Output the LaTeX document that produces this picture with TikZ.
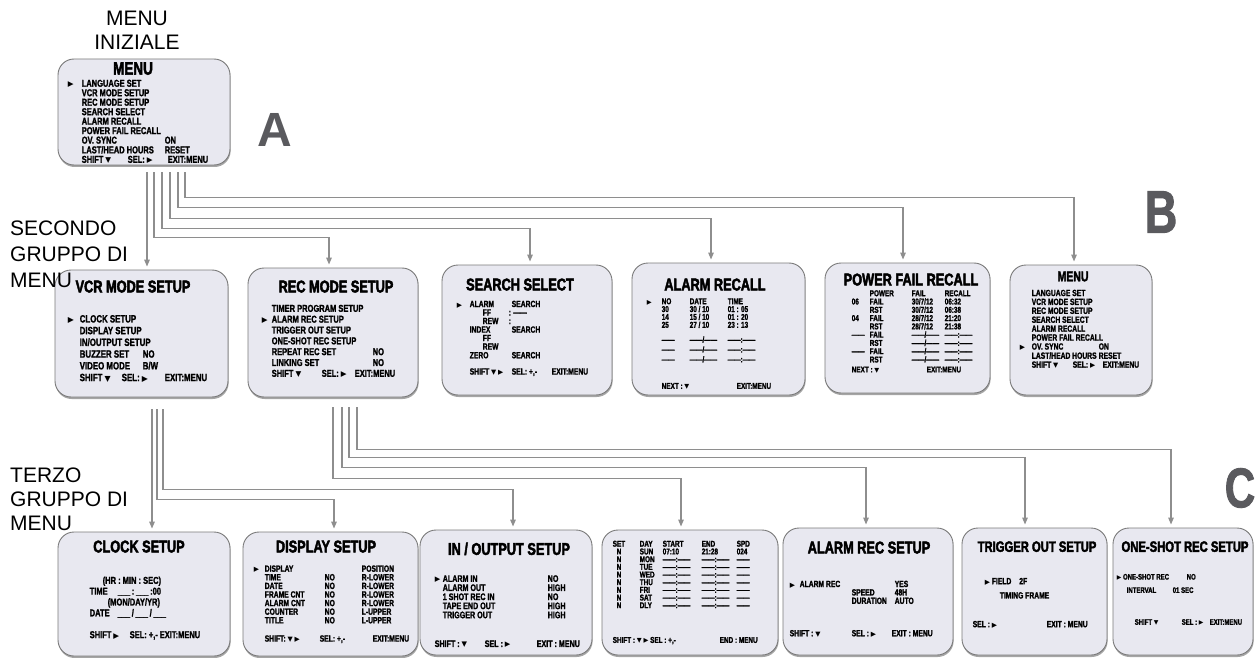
\documentclass[tikz,border=0pt]{standalone}
\usepackage{fontspec}
\usepackage{array}
\setmainfont{Liberation Sans}
\newfontfamily\scrfont[FakeStretch=0.75, FakeBold=1.6, Ligatures=TeX]{Liberation Sans}
\newfontfamily\ttlfont[FakeStretch=0.75, FakeBold=2.6, Ligatures=TeX]{Liberation Sans}
\newfontfamily\symfont{DejaVu Sans}
\usetikzlibrary{arrows.meta, positioning, shadows}

\definecolor{screenfill}{HTML}{E8E8F0}
\definecolor{screenline}{HTML}{7A7A7A}
\definecolor{wiregray}{HTML}{8E8E8E}
\definecolor{lettergray}{HTML}{5A5A5E}

\newcommand{\scrtri}{{\symfont\scalebox{0.75}{▶}}}
\newcommand{\scrdown}{{\symfont\scalebox{0.75}{▼}}}
\newcommand{\scrdash}{------}

\begin{document}
\begin{tikzpicture}[
    x=1pt, y=-1pt,
    screen/.style={draw=screenline, line width=0.9pt, fill=screenfill, rounded corners=16pt, inner sep=0pt,
        drop shadow={shadow xshift=0.6pt, shadow yshift=-2pt, opacity=0.7, fill=black!50}},
    title/.style={font=\ttlfont\bfseries\fontsize{#1}{#1}\selectfont, inner sep=0pt},
    title/.default=17,
    scr/.style 2 args={font=\scrfont\bfseries\fontsize{#1}{#1}\selectfont\def\arraystretch{#2}, inner sep=0pt},
    grouplbl/.style={font=\fontsize{21}{#1}\selectfont, inner sep=0pt},
    bigletter/.style={font=\bfseries\fontsize{#1}{#1}\selectfont, text=lettergray, inner sep=0pt},
    arrow/.style={draw=wiregray, line width=1.3pt, -{Triangle[length=7pt, width=5.5pt]}, shorten <=7pt, shorten >=3pt},
]
\path[use as bounding box, fill=white] (0,0) rectangle (1259,658);

% menu iniziale
\node[screen, minimum width=172pt, minimum height=106pt] (menua) at (144,112) {};
\node[title=18, below=3.5pt of menua.north, xshift=-11pt] (menuattl) {MENU};
\node[scr={10}{0.833}, below right=21pt and 10pt of menua.north west] (menuatxt) {%
\begin{tabular}{@{}w{l}{14pt}@{}w{l}{83pt}@{}l@{}}
\scrtri & LANGUAGE SET\\
 & VCR MODE SETUP\\
 & REC MODE SETUP\\
 & SEARCH SELECT\\
 & ALARM RECALL\\
 & POWER FAIL RECALL\\
 & OV. SYNC & ON\\
 & LAST/HEAD HOURS & RESET\\
 & \multicolumn{2}{@{}l@{}}{\makebox[46pt][l]{SHIFT \scrdown}\makebox[40pt][l]{SEL: \scrtri}EXIT:MENU}
\end{tabular}};

% secondo gruppo
\node[screen, minimum width=173pt, minimum height=127pt] (vcrmode) at (141.5,333.5) {};
\node[title, below=10.8pt of vcrmode.north, xshift=-8.5pt] (vcrmodettl) {VCR MODE SETUP};
\node[scr={10.5}{1.117}, below right=44.5pt and 13pt of vcrmode.north west] (vcrmodetxt) {%
\begin{tabular}{@{}w{l}{12pt}@{}w{l}{63pt}@{}l@{}}
\scrtri & CLOCK SETUP\\
 & DISPLAY SETUP\\
 & IN/OUTPUT SETUP\\
 & BUZZER SET & NO\\
 & VIDEO MODE & B/W\\
 & \multicolumn{2}{@{}l@{}}{\makebox[42pt][l]{SHIFT \scrdown}\makebox[43pt][l]{SEL: \scrtri}EXIT:MENU}
\end{tabular}};

\node[screen, minimum width=170pt, minimum height=129pt] (recmode) at (333,332.5) {};
\node[title, below=12.8pt of recmode.north, xshift=3pt] (recmodettl) {REC MODE SETUP};
\node[scr={10}{1.083}, below right=36.5pt and 14pt of recmode.north west] (recmodetxt) {%
\begin{tabular}{@{}w{l}{10pt}@{}w{l}{101pt}@{}l@{}}
 & TIMER PROGRAM SETUP\\
\scrtri & ALARM REC SETUP\\
 & TRIGGER OUT SETUP\\
 & ONE-SHOT REC SETUP\\
 & REPEAT REC SET & NO\\
 & LINKING SET & NO\\
 & \multicolumn{2}{@{}l@{}}{\makebox[50pt][l]{SHIFT \scrdown}\makebox[33pt][l]{SEL: \scrtri}EXIT:MENU}
\end{tabular}};

\node[screen, minimum width=170pt, minimum height=130pt] (search) at (527,330) {};
\node[title, below=13.8pt of search.north, xshift=-7pt] (searchttl) {SEARCH SELECT};
\node[scr={9}{0.858}, below right=36pt and 15pt of search.north west] (searchtxt) {%
\begin{tabular}{@{}w{l}{13pt}@{}w{l}{42pt}@{}l@{}}
\scrtri & ALARM & SEARCH\\
 & \hspace*{13pt}\makebox[26pt][l]{FF}: & \,\scrdash\\
 & \hspace*{13pt}\makebox[26pt][l]{REW}: & \\
 & INDEX & SEARCH\\
 & \hspace*{13pt}FF & \\
 & \hspace*{13pt}REW & \\
 & ZERO & SEARCH\\
 & & \\
 & \multicolumn{2}{@{}l@{}}{\makebox[42pt][l]{SHIFT \scrdown\ \scrtri}\makebox[40pt][l]{SEL: +,-}EXIT:MENU}
\end{tabular}};

\node[screen, minimum width=173pt, minimum height=132pt] (alarmrc) at (718.5,329) {};
\node[title, below=15.8pt of alarmrc.north, xshift=-3.5pt] (alarmrcttl) {ALARM RECALL};
\node[scr={8.5}{0.667}, below right=35.5pt and 15pt of alarmrc.north west] (alarmrctxt) {%
\begin{tabular}{@{}w{l}{15pt}@{}w{l}{28pt}@{}w{l}{38pt}@{}l@{}}
\scrtri & NO & DATE & TIME\\
 & 30 & 30 / 10 & 01 : 05\\
 & 14 & 15 / 10 & 01 : 20\\
 & 25 & 27 / 10 & 23 : 13\\[7pt]
 & \scrdash & \scrdash/\scrdash & \scrdash:\scrdash\\[2pt]
 & \scrdash & \scrdash/\scrdash & \scrdash:\scrdash\\[2pt]
 & \scrdash & \scrdash/\scrdash & \scrdash:\scrdash\\[19pt]
 & \multicolumn{3}{@{}l@{}}{\makebox[75pt][l]{NEXT : \scrdown}EXIT:MENU}
\end{tabular}};

\node[screen, minimum width=165pt, minimum height=130pt] (powerfail) at (907.5,328) {};
\node[title, below=10.8pt of powerfail.north, xshift=3.5pt] (powerfailttl) {POWER FAIL RECALL};
\node[scr={8.5}{0.833}, below right=27.5pt and 27pt of powerfail.north west] (powerfailtxt) {%
\begin{tabular}{@{}w{l}{18pt}@{}w{l}{42pt}@{}w{l}{33pt}@{}l@{}}
 & POWER & FAIL & RECALL\\
06 & FAIL & 30/7/12 & 06:32\\
 & RST & 30/7/12 & 06:38\\
04 & FAIL & 28/7/12 & 21:20\\
 & RST & 28/7/12 & 21:38\\
\scrdash & FAIL & \scrdash/\scrdash & \scrdash:\scrdash\\
 & RST & \scrdash/\scrdash & \scrdash:\scrdash\\
\scrdash & FAIL & \scrdash/\scrdash & \scrdash:\scrdash\\
 & RST & \scrdash/\scrdash & \scrdash:\scrdash\\[2pt]
\multicolumn{4}{@{}l@{}}{\makebox[75pt][l]{NEXT : \scrdown}EXIT:MENU}
\end{tabular}};

\node[screen, minimum width=142pt, minimum height=130pt] (menub) at (1081,330) {};
\node[title=14, below=6.9pt of menub.north, xshift=-8pt] (menubttl) {MENU};
\node[scr={9}{0.979}, below right=25pt and 10pt of menub.north west] (menubtxt) {%
\begin{tabular}{@{}w{l}{12pt}@{}w{l}{67pt}@{}l@{}}
 & LANGUAGE SET\\
 & VCR MODE SETUP\\
 & REC MODE SETUP\\
 & SEARCH SELECT\\
 & ALARM RECALL\\
 & POWER FAIL RECALL\\
\scrtri & OV. SYNC & ON\\
 & LAST/HEAD HOURS & RESET\\
 & \multicolumn{2}{@{}l@{}}{\makebox[41pt][l]{SHIFT \scrdown}\makebox[30pt][l]{SEL: \scrtri}EXIT:MENU}
\end{tabular}};

% terzo gruppo
\node[screen, minimum width=172pt, minimum height=124pt] (clock) at (144,594) {};
\node[title, below=8.8pt of clock.north, xshift=-5pt] (clockttl) {CLOCK SETUP};
\node[scr={10}{1.083}, below right=44.5pt and 32pt of clock.north west] (clocktxt) {%
\begin{tabular}{@{}l@{}}
\hspace*{13pt}(HR : MIN : SEC)\\
TIME\hspace{10pt}\_\_\_\,:\,\_\_\_\,:00\\
\hspace*{18pt}(MON/DAY/YR)\\
DATE\hspace{8pt}\_\_\_\,/\,\_\_\_\,/\,\_\_\_\\[11pt]
\makebox[40pt][l]{SHIFT \scrtri}\makebox[30pt][l]{SEL: +,-}EXIT:MENU
\end{tabular}};

\node[screen, minimum width=175pt, minimum height=124pt] (display) at (330.5,594) {};
\node[title, below=8.8pt of display.north, xshift=-4.5pt] (displayttl) {DISPLAY SETUP};
\node[scr={9}{0.858}, below right=33.7pt and 11pt of display.north west] (displaytxt) {%
\begin{tabular}{@{}w{l}{11pt}@{}w{l}{60pt}@{}w{l}{37pt}@{}l@{}}
\scrtri & DISPLAY & & POSITION\\
 & TIME & NO & R-LOWER\\
 & DATE & NO & R-LOWER\\
 & FRAME CNT & NO & R-LOWER\\
 & ALARM CNT & NO & R-LOWER\\
 & COUNTER & NO & L-UPPER\\
 & TITLE & NO & L-UPPER\\[9.7pt]
 & \multicolumn{3}{@{}l@{}}{\makebox[55pt][l]{SHIFT: \scrdown\ \scrtri}\makebox[53pt][l]{SEL: +,-}EXIT:MENU}
\end{tabular}};

\node[screen, minimum width=172pt, minimum height=125pt] (inout) at (506,592.5) {};
\node[title, below=12.8pt of inout.north, xshift=3pt] (inoutttl) {IN / OUTPUT SETUP};
\node[scr={9.5}{0.858}, below right=45.5pt and 15pt of inout.north west] (inouttxt) {%
\begin{tabular}{@{}w{l}{8pt}@{}w{l}{105pt}@{}l@{}}
\scrtri & ALARM IN & NO\\
 & ALARM OUT & HIGH\\
 & 1 SHOT REC IN & NO\\
 & TAPE END OUT & HIGH\\
 & TRIGGER OUT & HIGH\\[19.7pt]
\multicolumn{3}{@{}l@{}}{\makebox[50pt][l]{SHIFT : \scrdown}\makebox[52pt][l]{SEL : \scrtri}EXIT : MENU}
\end{tabular}};

\node[screen, minimum width=176pt, minimum height=125pt] (timer) at (690,592.5) {};
\node[scr={8.5}{0.708}, below right=11pt and 11pt of timer.north west] (timertxt) {%
\begin{tabular}{@{}w{l}{27pt}@{}w{l}{23pt}@{}w{l}{39pt}@{}w{l}{35pt}@{}l@{}}
SET & DAY & START & END & SPD\\
\hspace*{4pt}N & SUN & 07:10 & 21:28 & 024\\
\hspace*{4pt}N & MON & \scrdash:\scrdash & \scrdash:\scrdash & \scrdash\\
\hspace*{4pt}N & TUE & \scrdash:\scrdash & \scrdash:\scrdash & \scrdash\\
\hspace*{4pt}N & WED & \scrdash:\scrdash & \scrdash:\scrdash & \scrdash\\
\hspace*{4pt}N & THU & \scrdash:\scrdash & \scrdash:\scrdash & \scrdash\\
\hspace*{4pt}N & FRI & \scrdash:\scrdash & \scrdash:\scrdash & \scrdash\\
\hspace*{4pt}N & SAT & \scrdash:\scrdash & \scrdash:\scrdash & \scrdash\\
\hspace*{4pt}N & DLY & \scrdash:\scrdash & \scrdash:\scrdash & \scrdash\\[27pt]
\multicolumn{5}{@{}l@{}}{\makebox[107pt][l]{SHIFT : \scrdown\ \scrtri\ SEL : +,-}END : MENU}
\end{tabular}};

\node[screen, minimum width=170pt, minimum height=127pt] (alarmrec) at (868,591.5) {};
\node[title, below=13.8pt of alarmrec.north, xshift=1pt] (alarmrecttl) {ALARM REC SETUP};
\node[scr={9}{0.792}, below right=53pt and 7pt of alarmrec.north west] (alarmrectxt) {%
\begin{tabular}{@{}w{l}{10pt}@{}w{l}{52pt}@{}w{l}{43pt}@{}l@{}}
\scrtri & \multicolumn{2}{@{}l@{}}{ALARM REC} & YES\\
 & & SPEED & 48H\\
 & & DURATION & AUTO\\[24pt]
\multicolumn{4}{@{}l@{}}{\makebox[62pt][l]{SHIFT : \scrdown}\makebox[40pt][l]{SEL : \scrtri}EXIT : MENU}
\end{tabular}};

\node[screen, minimum width=145pt, minimum height=127pt] (trigger) at (1034.5,591.5) {};
\node[title=15, below=13.6pt of trigger.north, xshift=2.5pt] (triggerttl) {TRIGGER OUT SETUP};
\node[scr={9}{1.583}, below right=46.5pt and 11pt of trigger.north west] (triggertxt) {%
\begin{tabular}{@{}l@{}}
\hspace*{12pt}\scrtri\ FIELD\hspace{8pt}2F\\
\hspace*{27pt}TIMING FRAME\\[14.5pt]
\makebox[74pt][l]{SEL : \scrtri}EXIT : MENU
\end{tabular}};

\node[screen, minimum width=140pt, minimum height=127pt] (oneshot) at (1183,591.5) {};
\node[title=15, below=13.6pt of oneshot.north, xshift=2pt] (oneshotttl) {ONE-SHOT REC SETUP};
\node[scr={8}{1.667}, below right=42.5pt and 4pt of oneshot.north west] (oneshottxt) {%
\begin{tabular}{@{}l@{}}
\makebox[70pt][l]{\scrtri\ ONE-SHOT REC}NO\\
\hspace*{10pt}\makebox[46pt][l]{INTERVAL}01 SEC\\[18.5pt]
\hspace*{18pt}\makebox[47pt][l]{SHIFT \scrdown}\makebox[28pt][l]{SEL : \scrtri}EXIT:MENU
\end{tabular}};

% labels
\node[grouplbl=24, align=center] (lblinit) at (137,30) {MENU\\INIZIALE};
\node[grouplbl=26, align=left, anchor=west] (lblsecond) at (10,254) {SECONDO\\GRUPPO DI\\MENU};
\node[grouplbl=24, align=left, anchor=west] (lblthird) at (10,499) {TERZO\\GRUPPO DI\\MENU};
\node[bigletter=48] (lettera) at (275,130) {A};
\node[bigletter=60] (letterb) at (1161,212) {\scrfont B};
\node[bigletter=56] (letterc) at (1240,488) {\scrfont C};

% menu -> secondo gruppo
\draw[arrow] ([xshift=3pt]menua.south) -- ([xshift=5.5pt]vcrmode.north);
\draw[arrow] ([xshift=10pt]menua.south) -- ++(0,72) -| ([xshift=-4pt]recmode.north);
\draw[arrow] ([xshift=18pt]menua.south) -- ++(0,63) -| ([xshift=3pt]search.north);
\draw[arrow] ([xshift=26pt]menua.south) -- ++(0,53) -| ([xshift=-7.5pt]alarmrc.north);
\draw[arrow] ([xshift=34pt]menua.south) -- ++(0,42) -| ([xshift=-4.5pt]powerfail.north);
\draw[arrow] ([xshift=41pt]menua.south) -- ++(0,32) -| ([xshift=-7pt]menub.north);

% secondo -> terzo gruppo
\draw[arrow, shorten <=12pt] ([xshift=10.5pt]vcrmode.south) -- ([xshift=8pt]clock.north);
\draw[arrow, shorten <=12pt] ([xshift=15.5pt]vcrmode.south) -- ++(0,102) -| ([xshift=3.5pt]display.north);
\draw[arrow, shorten <=12pt] ([xshift=21.5pt]vcrmode.south) -- ++(0,92) -| ([xshift=7pt]inout.north);
\draw[arrow, shorten <=10pt] (recmode.south) -- ++(0,81) -| ([xshift=-9pt]timer.north);
\draw[arrow, shorten <=10pt] ([xshift=9pt]recmode.south) -- ++(0,70) -| ([xshift=-2pt]alarmrec.north);
\draw[arrow, shorten <=10pt] ([xshift=16pt]recmode.south) -- ++(0,60) -| ([xshift=-9.5pt]trigger.north);
\draw[arrow, shorten <=10pt] ([xshift=24pt]recmode.south) -- ++(0,52) -| ([xshift=-12pt]oneshot.north);

\end{tikzpicture}
\end{document}
